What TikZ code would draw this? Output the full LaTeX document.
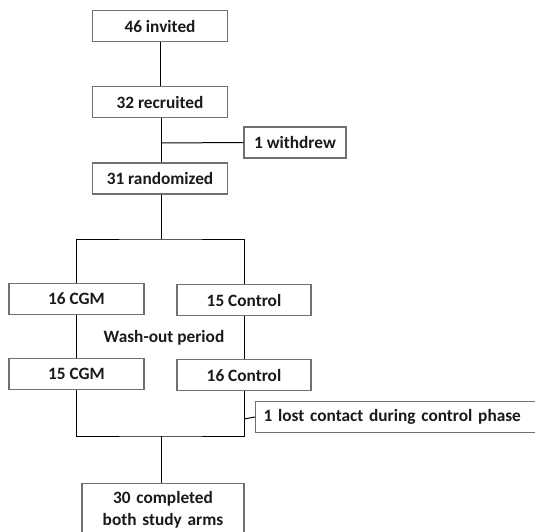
\documentclass[tikz,border=0pt]{standalone}
\usepackage{fontspec}
\setmainfont{Carlito}
\definecolor{boxgray}{HTML}{707070}
\definecolor{txt}{HTML}{1A1A1A}
\begin{document}
\begin{tikzpicture}[x=1pt,y=-1pt,
  fbox/.style={draw=boxgray,line width=1.2pt,fill=white,text=txt,font=\fontsize{17.3}{22}\selectfont\bfseries,
    inner sep=0pt,minimum height=31pt,align=center},
  conn/.style={draw=black,line width=1pt}]
\useasboundingbox (0,0) rectangle (535,532);
\clip (0,0) rectangle (535,532);
\node[fbox,minimum width=135pt] (inv) at (160,26) {46 invited};
\node[fbox,minimum width=135pt] (rec) at (160,102) {32 recruited};
\node[fbox,minimum width=102pt] (wd) at (295,142.5) {1 withdrew};
\node[fbox,minimum width=135pt] (rand) at (160,178.5) {31 randomized};
\node[fbox,minimum width=135pt] (cgm1) at (76.5,299) {16 CGM};
\node[fbox,minimum width=134pt] (ctl1) at (244,300) {15 Control};
\node[text=txt,font=\fontsize{17.3}{22}\selectfont\bfseries] (wash) at (164,338) {Wash-out period};
\node[fbox,minimum width=300pt,anchor=west,text width=290pt,align=left,inner xsep=8pt] (lost) at (255,417) {1 lost contact during control phase};
\node[fbox,minimum width=162pt,anchor=north,text width=162pt,align=center,inner ysep=8pt] (fin) at (163,483)
  {30 completed\\both study arms\\\strut};
\coordinate (j1) at (161,143);
\coordinate (j2) at (161,239);
\coordinate (j3) at (161,436);
\coordinate (j4) at (244,419);
\node[fbox,minimum width=135pt] (cgm2) at (76.5,374) {15 CGM};
\node[fbox,minimum width=134pt] (ctl2) at (244,375) {16 Control};
\path[conn] (inv) -- (rec);
\path[conn] (rec.south -| j1) -- (rand.north -| j1);
\path[conn] (j1) -- (wd.west);
\path[conn] (rand.south -| j2) -- (j2);
\path[conn] (cgm1.north) |- (j2) -| (ctl1.north);
\path[conn] (cgm1) -- (cgm2);
\path[conn] (ctl1) -- (ctl2);
\path[conn] (cgm2.south) |- (j3) -| (ctl2.south);
\path[conn] (j4) -- (lost.west);
\path[conn] (j3) -- (fin.north -| j3);
\end{tikzpicture}
\end{document}
